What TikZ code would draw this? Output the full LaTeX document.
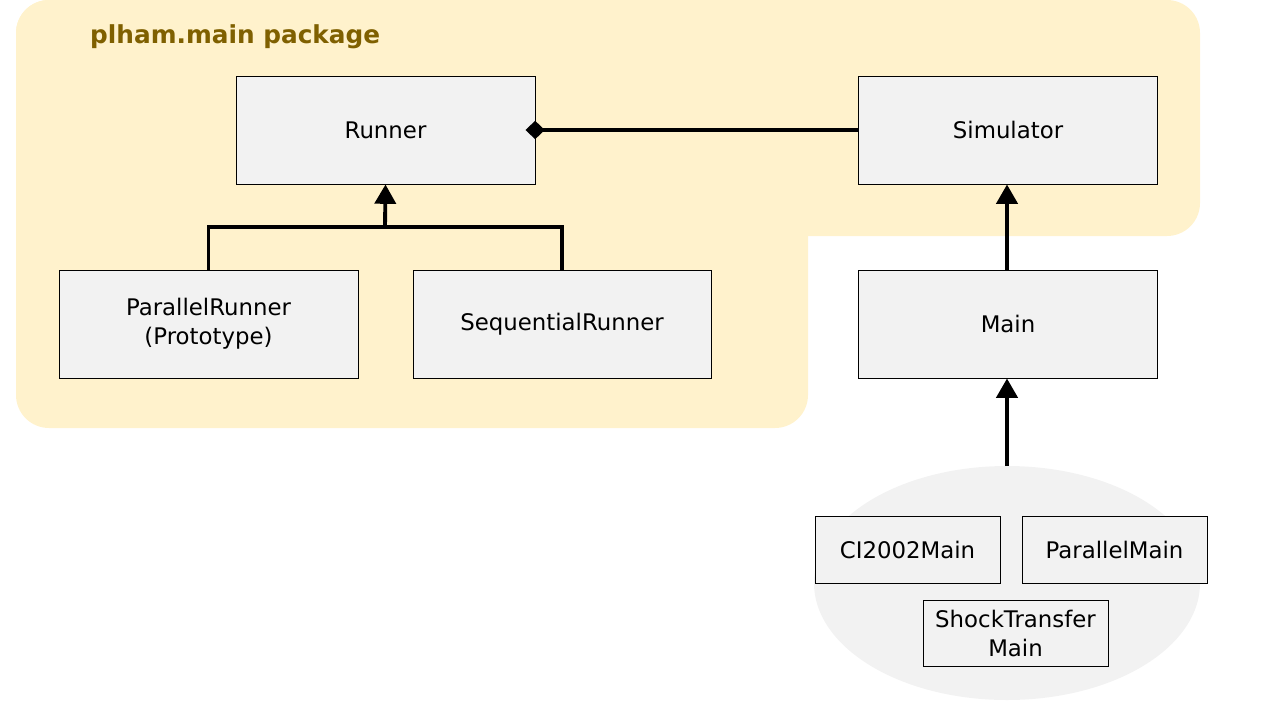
\documentclass[tikz,border=0pt]{standalone}
\usepackage{fontspec}
\setmainfont{DejaVu Sans}
\usetikzlibrary{arrows.meta}
\usetikzlibrary{calc}

\definecolor{pkgfill}{HTML}{FFF2CC}
\definecolor{pkgtext}{HTML}{7F6000}
\definecolor{boxfill}{HTML}{F2F2F2}

\tikzset{
	classbox/.style={draw=black, fill=boxfill, line width=0.55pt, font=\fontsize{13}{16.5}\selectfont, align=center, inner sep=0pt},
	inherit/.style={line width=2.2pt, -{Triangle[length=11pt, width=12pt]}},
	compose/.style={line width=2.2pt, {Diamond[length=11pt, width=10.5pt]}-},
}

\begin{document}
\begin{tikzpicture}[x=0.02cm, y=-0.02cm]

	\def\px{0.02cm} %one pixel of the reference
	\useasboundingbox (0,0) rectangle (1280,720);

	%package background (two overlapping rounded boxes)
	\fill[pkgfill, rounded corners=33*\px] (16,0) rectangle (1200,236);
	\fill[pkgfill, rounded corners=33*\px] (16,0) rectangle (808,428);
	\node[anchor=west, font=\fontsize{14.1}{17}\selectfont\bfseries, text=pkgtext] (title) at (84,37) {plham.main package};

	%group of main classes
	\fill[boxfill] (1007,583) ellipse (193 and 117);
	\coordinate (group) at (1007,466);

	%class boxes
	\node[classbox, minimum width=299*\px, minimum height=108*\px] (runner) at (385.5,130) {Runner};
	\node[classbox, minimum width=299*\px, minimum height=108*\px] (simulator) at (1008,130) {Simulator};
	\node[classbox, minimum width=299*\px, minimum height=108*\px] (parallel) at (208.5,324) {ParallelRunner\\(Prototype)};
	\node[classbox, minimum width=298*\px, minimum height=108*\px] (sequential) at (562,324) {SequentialRunner};
	\node[classbox, minimum width=299*\px, minimum height=108*\px] (main) at (1008,324) {Main};
	\node[classbox, minimum width=185*\px, minimum height=67*\px] (ci) at (907.5,549.5) {CI2002Main};
	\node[classbox, minimum width=185*\px, minimum height=67*\px] (pmain) at (1114.5,549.5) {ParallelMain};
	\node[classbox, minimum width=185*\px, minimum height=66*\px] (shock) at (1015.5,633) {ShockTransfer\\Main};

	%connectors
	\draw[compose, shorten <=-10*\px] (runner.east) -- (simulator.west);
	\draw[line width=2.2pt] (parallel.north) |- (385,227) -| (sequential.north);
	\draw[inherit] (385,227) -- (runner.south);
	\draw[inherit] (main.north -| 1007,0) -- (simulator.south -| 1007,0);
	\draw[inherit] (group) -- (main.south -| 1007,0);

\end{tikzpicture}
\end{document}
